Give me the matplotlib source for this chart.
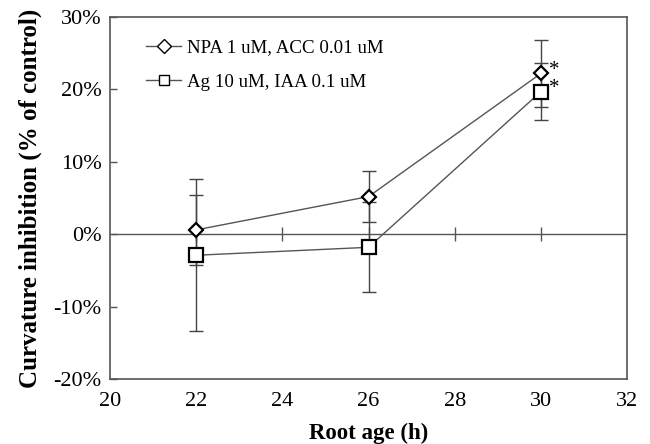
import matplotlib
matplotlib.use("Agg")
import matplotlib.pyplot as plt
import numpy as np

plt.rcParams['font.family'] = ['Liberation Serif', 'DejaVu Serif']

hours = [22, 26, 30]
npa = [0.6, 5.2, 22.2]
npa_err = [4.8, 3.5, 4.6]
ag = [-2.9, -1.8, 19.7]
ag_err = [10.5, 6.2, 4.0]
labels = ['NPA 1 uM, ACC 0.01 uM', 'Ag 10 uM, IAA 0.1 uM']
xticks = [20, 22, 24, 26, 28, 30, 32]
yticks = [-20, -10, 0, 10, 20, 30]
sig_index = 2

fig = plt.figure(figsize=(6.5, 4.44), dpi=100)
ax = fig.add_axes([0.169, 0.146, 0.796, 0.816])

ax.axhline(0, color='#555555', lw=1.0, zorder=1)
ax.plot(xticks[1:-1], [0] * (len(xticks) - 2), ls='none', marker='|',
        ms=10, mew=1.0, color='#555555', zorder=1)

ax.errorbar(hours, npa, yerr=npa_err, fmt='none', ecolor='#444444',
            elinewidth=1.0, capsize=5, capthick=1.0, zorder=2)
ax.errorbar(hours, ag, yerr=ag_err, fmt='none', ecolor='#444444',
            elinewidth=1.0, capsize=5, capthick=1.0, zorder=2)
ax.plot(hours, npa, color='#555555', lw=1.0, marker='D', ms=7,
        mfc='white', mec='black', mew=1.6, label=labels[0], zorder=3)
ax.plot(hours, ag, color='#555555', lw=1.0, marker='s', ms=10,
        mfc='white', mec='black', mew=1.6, label=labels[1], zorder=3)

for series in (npa, ag):
    ax.annotate('*', (hours[sig_index], series[sig_index]), xytext=(6, 2),
                textcoords='offset points', fontsize=15, ha='left', va='center')

ax.set_xlim(20, 32)
ax.set_ylim(-20, 30)
ax.set_xticks(xticks)
ax.set_yticks(yticks)
ax.set_yticklabels([f'{v}%' for v in yticks])
ax.tick_params(axis='x', length=0, labelsize=16, pad=9.5)
ax.tick_params(axis='y', direction='in', length=5, width=1, labelsize=16,
               color='#555555', pad=6)
for s in ax.spines.values():
    s.set_color('#555555')
    s.set_linewidth(1.2)

ax.set_xlabel('Root age (h)', fontsize=16.5, fontweight='bold', labelpad=8)
ax.set_ylabel('Curvature inhibition (% of control)', fontsize=18,
              fontweight='bold', labelpad=8)

leg = ax.legend(loc='upper left', frameon=False, fontsize=13.6,
                bbox_to_anchor=(0.045, 0.975), handlelength=1.85,
                handletextpad=0.3, labelspacing=0.9, borderaxespad=0.3)
for h in leg.legend_handles:
    h.set_markersize(7)
    h.set_markeredgewidth(1.0)

fig.savefig('out.png', dpi=100)
